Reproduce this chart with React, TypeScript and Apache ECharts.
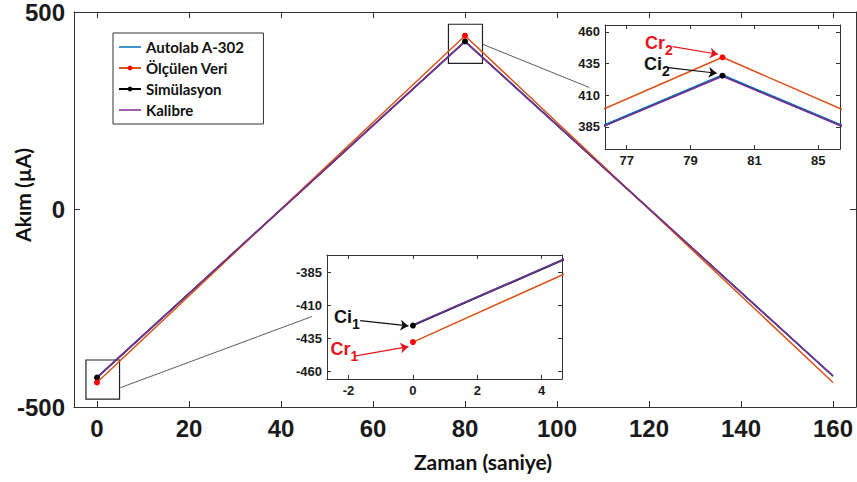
import React, { useEffect, useRef } from "react";
import * as echarts from "echarts";

// ---- data ----
const timeValues = [0, 80, 160];
const autolabValues = [-425, 426, -422];
const measuredValues = [-438, 440, -438];
const simulationValues = [-425.5, 425.5, -421.5];
const kalibreValues = [-425, 425, -421];
const markerShown = [true, true, false];

const seriesNames = ["Autolab A-302", "Ölçülen Veri", "Simülasyon", "Kalibre"];

const mainXTicks = [0, 20, 40, 60, 80, 100, 120, 140, 160];
const mainYTicks = [-500, 0, 500];
const inset1XTicks = [-2, 0, 2, 4];
const inset1YTicks = [-460, -435, -410, -385];
const inset2XTicks = [77, 79, 81, 83];
const inset2XTickLabels = ["77", "79", "81", "85"];
const inset2YTicks = [385, 410, 435, 460];

// ---- layout / style ----
const COLORS = ["#0072BD", "#D95319", "#000000", "#7E2F8E"];
const MARKER_COLORS = ["#0072BD", "#FF0000", "#000000", "#7E2F8E"];
const HAS_MARKERS = [false, true, true, false];
const DRAW_ORDER = [2, 0, 1, 3];

const ranges = {
  main: { x: [-5, 165], y: [-500, 500] },
  inset1: { x: [-2.67, 4.63], y: [-466, -372] },
  inset2: { x: [76.32, 83.68], y: [367.6, 465.5] },
};
const zoomBox1 = { x: [-2.4, 4.9], y: [-480, -381] };
const zoomBox2 = { x: [76.4, 83.8], y: [370, 469] };
const connector1 = [[5.1, -451], [46.7, -271]];
const connector2 = [[83.9, 418], [107, 309]];

const TICK_FONT = "Liberation Sans, Arial, sans-serif";
const TITLE_FONT = "Lato, sans-serif";
const AXIS_COLOR = "#333333";
const LABEL_COLOR = "#1a1a1a";
const LINE_ICON = "path://M0,0 H22 V1.5 H0 Z";

function makeAxes(gridIndex: number, xr: number[], yr: number[], xTicks: number[], yTicks: number[],
  fontSize: number, tickLen: number, margin: number, xFmt?: (v: number) => string) {
  const lineStyle = { color: AXIS_COLOR, width: 1 };
  const label = { fontFamily: TICK_FONT, fontWeight: "bold" as const, fontSize, color: LABEL_COLOR, margin };
  const xBottom: any = {
    type: "value", gridIndex, position: "bottom", min: xr[0], max: xr[1],
    axisLine: { show: true, onZero: false, lineStyle },
    axisTick: { show: true, inside: true, length: tickLen, customValues: xTicks, lineStyle },
    axisLabel: { ...label, customValues: xTicks, formatter: xFmt ? xFmt : (v: number) => String(v) },
    splitLine: { show: false },
  };
  const xTop: any = {
    type: "value", gridIndex, position: "top", min: xr[0], max: xr[1],
    axisLine: { show: true, onZero: false, lineStyle },
    axisTick: { show: true, inside: true, length: tickLen, customValues: xTicks, lineStyle },
    axisLabel: { show: false },
    splitLine: { show: false },
  };
  const yLeft: any = {
    type: "value", gridIndex, position: "left", min: yr[0], max: yr[1],
    axisLine: { show: true, onZero: false, lineStyle },
    axisTick: { show: true, inside: true, length: tickLen, customValues: yTicks, lineStyle },
    axisLabel: { ...label, customValues: yTicks, formatter: (v: number) => String(v) },
    splitLine: { show: false },
  };
  const yRight: any = {
    type: "value", gridIndex, position: "right", min: yr[0], max: yr[1],
    axisLine: { show: true, onZero: false, lineStyle },
    axisTick: { show: true, inside: true, length: tickLen, customValues: yTicks, lineStyle },
    axisLabel: { show: false },
    splitLine: { show: false },
  };
  return { x: [xBottom, xTop], y: [yLeft, yRight] };
}

const allValues = [autolabValues, measuredValues, simulationValues, kalibreValues];

function makeSeries(g: number, symbolSize: number, width: number) {
  const out: any = {};
  DRAW_ORDER.forEach((k) => {
    const vals = allValues[k];
    const data = timeValues.map((t, i) =>
      HAS_MARKERS[k] && markerShown[i] ? [t, vals[i]] : { value: [t, vals[i]], symbol: "none" }
    );
    out[k] = {
      type: "line",
      name: seriesNames[k],
      xAxisIndex: 2 * g,
      yAxisIndex: 2 * g,
      data,
      symbol: HAS_MARKERS[k] ? "circle" : "none",
      symbolSize,
      showSymbol: true,
      clip: true,
      lineStyle: { color: COLORS[k], width },
      itemStyle: { color: MARKER_COLORS[k], borderWidth: 0 },
      emphasis: { disabled: true },
      silent: true,
    };
  });
  return out;
}

function richLabel(main: string, sub: string, color: string) {
  return {
    show: true,
    position: [0, 0],
    align: "left",
    verticalAlign: "top",
    formatter: `{a|${main}}{s|${sub}}`,
    rich: {
      a: { fontFamily: TICK_FONT, fontWeight: "bold", fontSize: 18, lineHeight: 18, color, verticalAlign: "top" },
      s: { fontFamily: TICK_FONT, fontWeight: "bold", fontSize: 14, lineHeight: 14, color, padding: [9, 0, 0, 0], verticalAlign: "top" },
    },
  };
}

export default function App() {
  const ref = useRef<HTMLDivElement>(null);
  useEffect(() => {
    document.body.style.margin = "0";
    if (!ref.current) return;
    const chart = echarts.init(ref.current, null, { renderer: "svg" });

    const mainAxes = makeAxes(0, ranges.main.x, ranges.main.y, mainXTicks, mainYTicks, 24, 6, 9);
    const in1Axes = makeAxes(1, ranges.inset1.x, ranges.inset1.y, inset1XTicks, inset1YTicks, 13, 4, 5);
    const in2Axes = makeAxes(2, ranges.inset2.x, ranges.inset2.y, inset2XTicks, inset2YTicks, 13, 4, 5,
      (v: number) => inset2XTickLabels[inset2XTicks.indexOf(v)] ?? String(v));

    const mainS = makeSeries(0, 6, 1.5);
    const in1S = makeSeries(1, 6, 1.5);
    const in2S = makeSeries(2, 6, 1.5);

    // zoom boxes + connectors on the main grid
    mainS[1].markArea = {
      silent: true,
      itemStyle: { color: "rgba(0,0,0,0)", borderColor: "#222", borderWidth: 1.2 },
      data: [
        [{ coord: [zoomBox1.x[0], zoomBox1.y[1]] }, { coord: [zoomBox1.x[1], zoomBox1.y[0]] }],
        [{ coord: [zoomBox2.x[0], zoomBox2.y[1]] }, { coord: [zoomBox2.x[1], zoomBox2.y[0]] }],
      ],
    };
    mainS[1].markLine = {
      silent: true,
      symbol: ["none", "none"],
      label: { show: false },
      lineStyle: { color: "#333", width: 0.8, type: "solid" },
      data: [
        [{ coord: connector1[0] }, { coord: connector1[1] }],
        [{ coord: connector2[0] }, { coord: connector2[1] }],
      ],
    };

    // annotations inset 1
    in1S[1].markLine = {
      silent: true,
      symbol: ["none", "arrow"],
      symbolSize: 8,
      label: { show: false },
      data: [
        [{ coord: [-1.64, -421.8], lineStyle: { color: "#111", width: 1.2, type: "solid" } }, { coord: [-0.14, -425.8] }],
        [{ coord: [-1.82, -448.6], lineStyle: { color: "#E8141B", width: 1.2, type: "solid" } }, { coord: [-0.14, -441.5] }],
      ],
    };
    in1S[1].markPoint = {
      silent: true,
      symbol: "circle",
      symbolSize: 0,
      data: [
        { coord: [-2.45, -412.2], label: richLabel("Ci", "1", "#111") },
        { coord: [-2.56, -436.3], label: richLabel("Cr", "1", "#E8141B") },
      ],
    };
    // annotations inset 2
    in2S[1].markLine = {
      silent: true,
      symbol: ["none", "arrow"],
      symbolSize: 8,
      label: { show: false },
      data: [
        [{ coord: [78.44, 448.4], lineStyle: { color: "#E8141B", width: 1.2, type: "solid" } }, { coord: [79.86, 442.4] }],
        [{ coord: [78.3, 431.8], lineStyle: { color: "#111", width: 1.2, type: "solid" } }, { coord: [79.82, 427.4] }],
      ],
    };
    in2S[1].markPoint = {
      silent: true,
      symbol: "circle",
      symbolSize: 0,
      data: [
        { coord: [77.57, 458.3], label: richLabel("Cr", "2", "#E8141B") },
        { coord: [77.54, 442.0], label: richLabel("Ci", "2", "#111") },
      ],
    };

    const ordered = (s: any) => DRAW_ORDER.map((k) => s[k]);

    chart.setOption({
      animation: false,
      backgroundColor: "#ffffff",
      grid: [
        { left: 74, top: 11, width: 782, height: 396, show: false },
        { left: 327, top: 255, width: 235, height: 124, show: true, backgroundColor: "#fff", borderWidth: 0 },
        { left: 605, top: 25, width: 235, height: 124, show: true, backgroundColor: "#fff", borderWidth: 0 },
      ],
      xAxis: [...mainAxes.x, ...in1Axes.x, ...in2Axes.x],
      yAxis: [...mainAxes.y, ...in1Axes.y, ...in2Axes.y],
      legend: {
        show: true,
        orient: "vertical",
        left: 113,
        top: 33,
        itemWidth: 22,
        itemHeight: 6,
        itemGap: 5,
        padding: [6, 19, 6, 5],
        borderColor: "#333",
        borderWidth: 1,
        backgroundColor: "#fff",
        selectedMode: false,
        textStyle: { fontFamily: TITLE_FONT, fontWeight: "bold", fontSize: 15, color: "#111", lineHeight: 16 },
        data: [
          { name: seriesNames[0], icon: LINE_ICON },
          { name: seriesNames[1] },
          { name: seriesNames[2] },
          { name: seriesNames[3], icon: LINE_ICON },
        ],
      },
      graphic: [
        {
          type: "text", x: 483, y: 461, silent: true,
          style: { text: "Zaman (saniye)", fontFamily: TITLE_FONT, fontWeight: "bold", fontSize: 21, fill: "#111", align: "center", verticalAlign: "middle" },
        },
        {
          type: "text", x: 22, y: 195, rotation: Math.PI / 2, silent: true,
          style: { text: "Akım (µA)", fontFamily: TITLE_FONT, fontWeight: "bold", fontSize: 21, fill: "#111", align: "center", verticalAlign: "middle" },
        },
      ],
      series: [...ordered(mainS), ...ordered(in1S), ...ordered(in2S)],
    });
    return () => chart.dispose();
  }, []);
  return <div ref={ref} style={{ width: 857, height: 482 }} />;
}
